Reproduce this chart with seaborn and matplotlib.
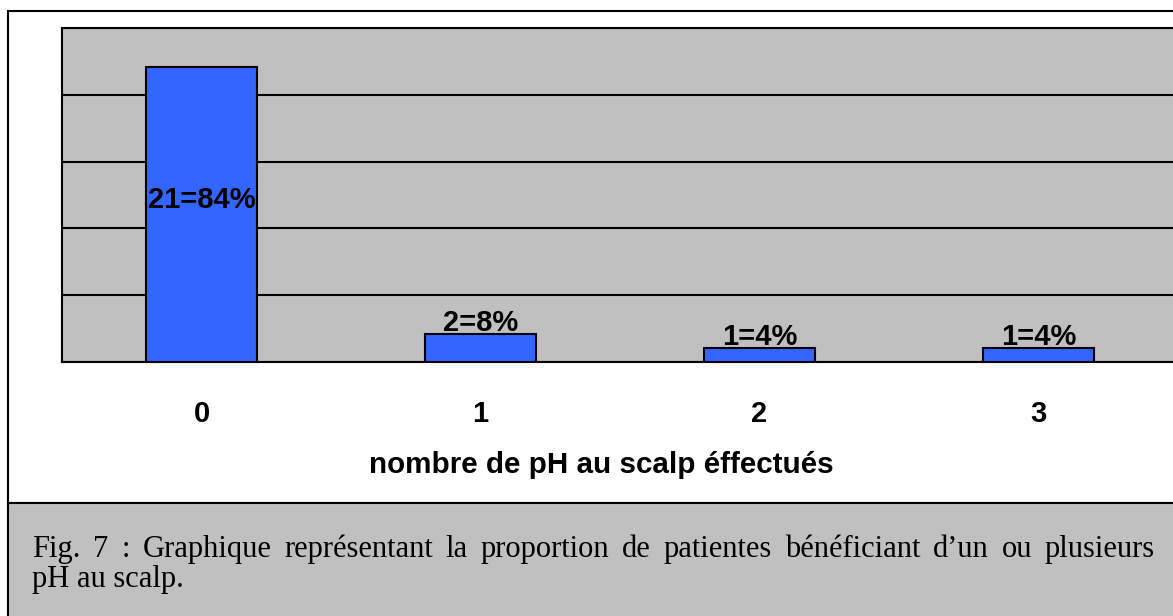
import numpy as np
import matplotlib
matplotlib.use("Agg")
import matplotlib.pyplot as plt
from matplotlib.patches import Rectangle
import seaborn as sns

# Data
categories = ["0", "1", "2", "3"]
counts = [21, 2, 1, 1]
percents = [84, 8, 4, 4]
bar_labels = [f"{n}={p}%" for n, p in zip(counts, percents)]
x_title = "nombre de pH au scalp éffectués"
caption_lines = [
    "Fig. 7 : Graphique représentant la proportion de patientes bénéficiant d’un ou  plusieurs",
    "pH au scalp.",
]

sns.set_style("white")
plt.rcParams["font.family"] = ["Liberation Sans", "DejaVu Sans"]
plt.rcParams["text.color"] = "black"
plt.rcParams["xtick.color"] = "black"
plt.rcParams["axes.labelcolor"] = "black"

W, H = 1173, 616
fig = plt.figure(figsize=(W / 100, H / 100), dpi=100)


def fx(px):
    return px / W


def fy(py):
    return 1 - py / H


# chart frame and caption box
fig.patches.append(Rectangle((fx(8), fy(503)), fx(1200) - fx(8), fy(11) - fy(503),
                             transform=fig.transFigure, facecolor="white",
                             edgecolor="black", lw=1.5, zorder=-5))
fig.patches.append(Rectangle((fx(8), fy(630)), fx(1200) - fx(8), fy(503) - fy(630),
                             transform=fig.transFigure, facecolor="#C0C0C0",
                             edgecolor="black", lw=1.5, zorder=-5))

ax = fig.add_axes([fx(62), fy(362), (1178 - 62) / W, (362 - 28) / H])
ax.set_facecolor("#C0C0C0")

sns.barplot(x=categories, y=counts, color="#3366FF", saturation=1, width=0.4,
            edgecolor="black", linewidth=1.5, ax=ax, zorder=3)

ymax = 23.8
ax.set_xlim(-0.5, 3.5)
ax.set_ylim(0, ymax)
ax.set_yticks(np.linspace(0, ymax, 6))
ax.set_yticklabels([])
ax.yaxis.grid(True, color="black", lw=1.5)
ax.set_axisbelow(True)
ax.tick_params(axis="y", length=0)

ax.set_xticks(range(len(categories)))
ax.set_xticklabels(categories, fontsize=21, fontweight="bold")
ax.tick_params(axis="x", which="major", length=0, pad=27)
ax.set_xticks(np.arange(-0.5, len(categories), 1), minor=True)
ax.tick_params(axis="x", which="minor", length=8, width=1.5, direction="out", color="black")

for s in ax.spines.values():
    s.set_color("black")
    s.set_linewidth(1.5)

# value labels
ax.text(0, counts[0] * 0.55, bar_labels[0], ha="center", va="center",
        fontsize=21, fontweight="bold", zorder=5)
ax.bar_label(ax.containers[0], labels=[""] + bar_labels[1:], padding=-2,
             fontsize=21, fontweight="bold")

ax.set_xlabel(x_title, fontsize=21.3, fontweight="bold")
ax.xaxis.set_label_coords((601 - 62) / 1116, -(451 - 362) / 334)

# caption: first line justified between x=32 and x=1155
renderer = fig.canvas.get_renderer()
words = caption_lines[0].split()
texts = [fig.text(0, fy(557), w, family="Liberation Serif", fontsize=22,
                  va="baseline") for w in words]
widths = [t.get_window_extent(renderer).width for t in texts]
gap = (1155 - 32 - sum(widths)) / (len(words) - 1)
x = 32
for t, w in zip(texts, widths):
    t.set_x(fx(x))
    x += w + gap
fig.text(fx(32), fy(587), caption_lines[1], family="Liberation Serif",
         fontsize=22, va="baseline")

fig.savefig("out.png", dpi=100)
